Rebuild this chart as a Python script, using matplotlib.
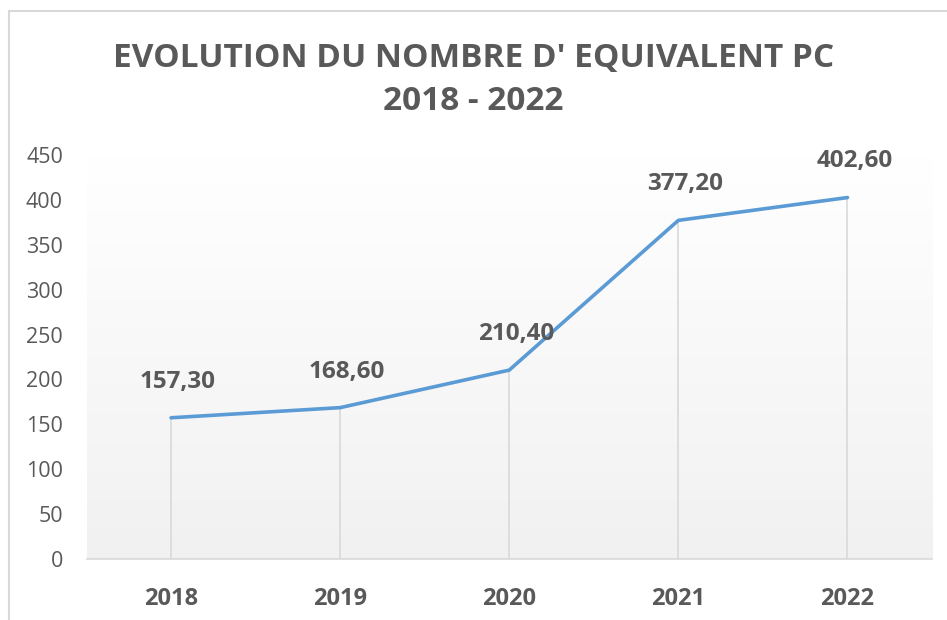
import numpy as np
import matplotlib.pyplot as plt
from matplotlib.patches import Rectangle

# Données
annees = ['2018', '2019', '2020', '2021', '2022']
valeurs = [157.30, 168.60, 210.40, 377.20, 402.60]
etiquettes = ['157,30', '168,60', '210,40', '377,20', '402,60']
yticks = [0, 50, 100, 150, 200, 250, 300, 350, 400, 450]

gris = '#595959'
bleu = '#5b9bd5'
plt.rcParams['font.family'] = ['Open Sans', 'DejaVu Sans']

fig = plt.figure(figsize=(9.47, 6.2), dpi=100)
W, H = 947, 620

# Cadre du graphique
fig.patches.append(Rectangle((8.5 / W, -0.1), 1.1, (H - 10.5) / H + 0.1,
                             transform=fig.transFigure, fill=False,
                             edgecolor='#d9d9d9', linewidth=1.5))

ax = fig.add_axes([86.5 / W, 1 - 559 / H, (932 - 86.5) / W, (559 - 155) / H])
x = np.arange(len(annees))

# Fond en dégradé
grad = np.linspace(1.0, 0.945, 256).reshape(-1, 1)
ax.imshow(np.dstack([grad, grad, grad]), aspect='auto',
          extent=(-0.5, 4.5, 0, 450), origin='upper', zorder=0)

# Lignes de projection
ax.vlines(x, 0, valeurs, color='#d9d9d9', linewidth=1.2, zorder=1)
ax.plot(x, valeurs, color=bleu, linewidth=2.6, solid_capstyle='round', zorder=3)

for xi, v, lab in zip(x, valeurs, etiquettes):
    ax.annotate(lab, (xi, v), xytext=(5, 26), textcoords='offset points',
                ha='center', va='center', fontsize=17.5, fontweight='bold', color=gris)

ax.set_xlim(-0.5, 4.5)
ax.set_ylim(0, 450)
ax.set_yticks(yticks)
ax.set_xticks(x)
ax.set_xticklabels(annees, fontsize=17, fontweight='bold', color=gris)
ax.tick_params(axis='y', labelsize=15.5, labelcolor=gris, length=0, pad=17)
ax.tick_params(axis='x', length=0, pad=20)
for s in ['top', 'right', 'left']:
    ax.spines[s].set_visible(False)
ax.spines['bottom'].set_color('#d9d9d9')
ax.spines['bottom'].set_linewidth(1.2)

fig.text(0.5, 1 - 59 / H, "EVOLUTION DU NOMBRE D' EQUIVALENT PC", ha='center', va='center',
         fontsize=24, fontweight='bold', color=gris)
fig.text(0.5, 1 - 101 / H, "2018 - 2022", ha='center', va='center',
         fontsize=24, fontweight='bold', color=gris)

fig.savefig('out.png', dpi=100)
